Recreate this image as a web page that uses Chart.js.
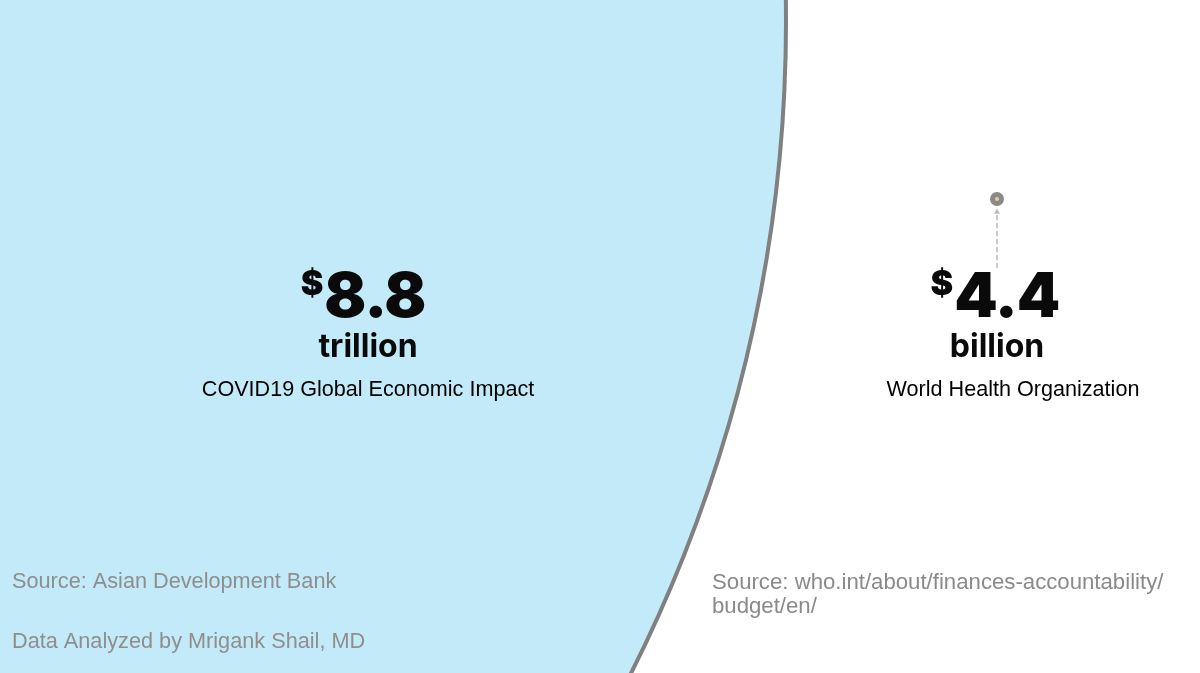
<!DOCTYPE html>
<html>
<head>
<meta charset="utf-8">
<title>COVID19 Economic Impact vs WHO Budget</title>
<script src="https://cdn.jsdelivr.net/npm/chart.js"></script>
<style>
  html, body { margin: 0; padding: 0; background: #ffffff; }
  #wrap { width: 1200px; height: 673px; position: relative; }
</style>
</head>
<body>
<div id="wrap"><canvas id="bubbleChart"></canvas></div>
<script>
  // Values shown on the slide
  const categories = ['COVID19 Global Economic Impact', 'World Health Organization'];
  const amounts = [8.8, 4.4];
  const units = ['trillion', 'billion'];
  const leftNotes = ['Source: Asian Development Bank', 'Data Analyzed by Mrigank Shail, MD'];
  const rightNotes = ['Source: who.int/about/finances-accountability/', 'budget/en/'];

  // Layout (axis units are pixels of the 1200x673 slide)
  const bubbleLayout = [
    { x: -664, y: 21, r: 1450, fill: '#c2eaf9', border: '#808080', width: 4 },
    { x: 997, y: 199, r: 4.5, fill: '#efc79c', border: '#8a8a8a', width: 5 }
  ];
  const labelLayout = [
    { numX: 363, unitX: 368, catX: 368 },
    { numX: 995, unitX: 997, catX: 1013 }
  ];

  // Draws the value labels and the source notes
  const labelPlugin = {
    id: 'slideLabels',
    afterDatasetsDraw(chart) {
      const ctx = chart.ctx;
      const xs = chart.scales.x;
      const ys = chart.scales.y;
      ctx.save();
      ctx.textBaseline = 'alphabetic';

      amounts.forEach((v, i) => {
        const l = labelLayout[i];
        const num = v.toFixed(1);
        ctx.fillStyle = '#0a0a0a';

        // big number with superscript dollar sign
        ctx.letterSpacing = '-1px';
        ctx.font = '900 62px Inter';
        const wNum = ctx.measureText(num).width;
        ctx.font = '900 34px Inter';
        const wDol = ctx.measureText('$').width;
        const start = xs.getPixelForValue(l.numX) - (wDol + 2 + wNum) / 2;
        ctx.textAlign = 'left';
        ctx.fillText('$', start, ys.getPixelForValue(295));
        ctx.font = '900 62px Inter';
        ctx.fillText(num, start + wDol + 2, ys.getPixelForValue(317));
        ctx.letterSpacing = '0px';

        ctx.textAlign = 'center';
        ctx.font = '700 32px Inter';
        ctx.fillText(units[i], xs.getPixelForValue(l.unitX), ys.getPixelForValue(357));

        ctx.font = '21.6px "Liberation Sans"';
        ctx.fillStyle = '#000000';
        ctx.fillText(categories[i], xs.getPixelForValue(l.catX), ys.getPixelForValue(396));
      });

      ctx.textAlign = 'left';
      ctx.font = '21.7px "Liberation Sans"';
      ctx.fillStyle = '#8e8e8e';
      ctx.fillText(leftNotes[0], 12, 588);
      ctx.fillText(leftNotes[1], 12, 648);
      ctx.font = '22.2px "Liberation Sans"';
      ctx.fillStyle = '#8a8a8a';
      ctx.fillText(rightNotes[0], 712, 589);
      ctx.fillText(rightNotes[1], 712, 613);
      ctx.restore();
    }
  };

  const ctx = document.getElementById('bubbleChart').getContext('2d');
  new Chart(ctx, {
    type: 'bubble',
    data: {
      labels: categories,
      datasets: [
        {
          label: 'Amount',
          data: bubbleLayout.map(b => ({ x: b.x, y: b.y, r: b.r })),
          backgroundColor: bubbleLayout.map(b => b.fill),
          borderColor: bubbleLayout.map(b => b.border),
          borderWidth: bubbleLayout.map(b => b.width),
          clip: false,
          order: 2
        },
        {
          // dashed pointer up to the small bubble
          type: 'line',
          label: 'pointer',
          data: [{ x: 997, y: 268 }, { x: 997, y: 212 }],
          borderColor: '#bcbcbc',
          borderWidth: 1.6,
          borderDash: [5, 3],
          pointRadius: [0, 3.5],
          pointStyle: 'triangle',
          pointBackgroundColor: '#bcbcbc',
          pointBorderWidth: 0,
          order: 1
        }
      ]
    },
    options: {
      responsive: true,
      maintainAspectRatio: false,
      animation: false,
      events: [],
      layout: { padding: 0, autoPadding: false },
      scales: {
        x: { type: 'linear', min: 0, max: 1200, display: false },
        y: { type: 'linear', min: 0, max: 673, reverse: true, display: false }
      },
      plugins: {
        legend: { display: false },
        tooltip: { enabled: false }
      }
    },
    plugins: [labelPlugin]
  });
</script>
</body>
</html>
